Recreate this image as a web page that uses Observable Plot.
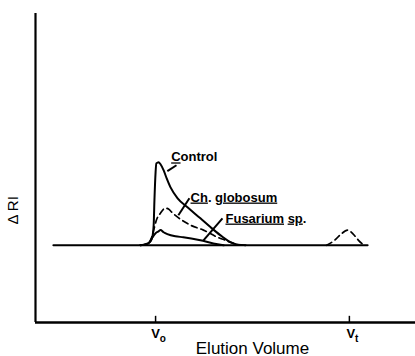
<!DOCTYPE html>
<html>
<head>
<meta charset="utf-8">
<script src="https://cdn.jsdelivr.net/npm/d3@7"></script>
<script src="https://cdn.jsdelivr.net/npm/@observablehq/plot@0.6"></script>
<style>
  body { margin: 0; background: #fff; }
</style>
</head>
<body>
<div id="chart"></div>
<script>
// Elution volume (arbitrary units) and ΔRI (relative to baseline)
const baselineX = [4.7, 87.4];
const baselineY = [0, 0];

const controlX = [27.6, 29.2, 30.3, 30.8, 31.1, 31.3, 31.6, 31.8, 32.4, 32.9, 33.7, 34.5, 35.5, 37.4, 40.0, 43.4, 46.1, 48.7, 51.3, 53.2, 55.3];
const controlY = [0, 0.3, 1.3, 2.9, 6.5, 14.6, 23.6, 26.5, 26.9, 26.2, 24.3, 21.7, 18.8, 15.2, 12.3, 8.7, 5.8, 3.2, 1.0, 0.2, 0];

const globosumX = [27.6, 29.7, 30.5, 31.1, 31.8, 32.9, 33.7, 34.2, 35.0, 36.1, 37.4, 40.8, 44.2, 47.9, 50.0, 52.1, 53.9];
const globosumY = [0, 0.6, 2.3, 4.9, 8.1, 10.4, 11.7, 12.0, 11.7, 10.4, 9.1, 6.5, 4.9, 2.6, 1.6, 0.6, 0];

const globosumPeak2X = [76.6, 78.7, 80.4, 82.1, 83.6, 85.0, 86.4];
const globosumPeak2Y = [0, 1.6, 3.6, 4.9, 3.6, 1.6, 0];

const fusariumX = [27.6, 28.9, 30.0, 30.8, 31.6, 32.4, 32.9, 33.7, 34.7, 36.8, 38.9, 43.4, 46.8, 49.5];
const fusariumY = [0, 0.3, 1.0, 2.6, 3.9, 4.5, 4.9, 4.2, 3.6, 2.9, 2.6, 1.6, 0.6, 0];

const tickValues = [31.6, 82.6];
const tickLabels = ["Vo", "Vt"];

const seriesLabels = ["Control", "Ch. globosum", "Fusarium sp."];
const labelX = [35.7, 40.8, 50.0];
const labelY = [28.5, 15.5, 8.7];
const leaderX1 = [34.7, 37.6, 44.2];
const leaderY1 = [24.0, 9.7, 1.6];
const leaderX2 = [37.1, 40.5, 49.2];
const leaderY2 = [25.9, 15.2, 8.7];

const zip = (xs, ys) => xs.map((x, i) => ({x, y: ys[i]}));
const baseline = zip(baselineX, baselineY);
const control = zip(controlX, controlY);
const globosum = zip(globosumX, globosumY);
const globosum2 = zip(globosumPeak2X, globosumPeak2Y);
const fusarium = zip(fusariumX, fusariumY);
const labels = seriesLabels.map((t, i) => ({t, x: labelX[i], y: labelY[i]}));
const leaders = seriesLabels.map((t, i) => ({x1: leaderX1[i], y1: leaderY1[i], x2: leaderX2[i], y2: leaderY2[i]}));
const ticks = tickValues.map((v, i) => ({v, label: tickLabels[i]}));

const chart = Plot.plot({
  width: 415,
  height: 356,
  marginLeft: 35,
  marginRight: 0,
  marginTop: 13,
  marginBottom: 34,
  style: {fontFamily: "Liberation Sans, Arial, sans-serif", background: "#fff", color: "#000"},
  x: {domain: [0, 100], axis: null},
  y: {domain: [-25, 75], axis: null},
  marks: [
    Plot.ruleX([0], {y1: -25, y2: 75, stroke: "#000", strokeWidth: 2.2}),
    Plot.ruleY([-25], {x1: 0, x2: 100, stroke: "#000", strokeWidth: 2.5}),
    Plot.ruleX(ticks, {x: "v", y1: -25, y2: -23, stroke: "#000", strokeWidth: 1.5}),
    Plot.text(ticks, {x: "v", y: -25, text: "label", dy: 11, dx: 3, fontSize: 13, fontWeight: "bold", fill: "#000"}),
    Plot.text(["Elution Volume"], {frameAnchor: "bottom", dy: 31, x: 57.1, text: d => d, fontSize: 17, letterSpacing: "0.5px", fill: "#000"}),
    Plot.text(["Δ RI"], {x: 0, y: 11.3, dx: -22, rotate: -90, text: d => d, fontSize: 15, fill: "#000", clip: false}),
    Plot.line(baseline, {x: "x", y: "y", stroke: "#000", strokeWidth: 2}),
    Plot.line(control, {x: "x", y: "y", curve: "monotone-x", stroke: "#000", strokeWidth: 2}),
    Plot.line(fusarium, {x: "x", y: "y", curve: "monotone-x", stroke: "#000", strokeWidth: 2}),
    Plot.line(globosum, {x: "x", y: "y", curve: "monotone-x", stroke: "#000", strokeWidth: 1.7, strokeDasharray: "6,4"}),
    Plot.line(globosum2, {x: "x", y: "y", curve: "monotone-x", stroke: "#000", strokeWidth: 1.7, strokeDasharray: "6,4"}),
    Plot.link(leaders, {x1: "x1", y1: "y1", x2: "x2", y2: "y2", stroke: "#000", strokeWidth: 2}),
    Plot.text(labels, {x: "x", y: "y", text: "t", textAnchor: "start", fontSize: 13, fontWeight: "bold", fill: "#000"})
  ]
});

// underline and subscripts, as in the original figure
chart.querySelectorAll("text").forEach(t => {
  const s = t.textContent;
  const u = w => `<tspan text-decoration="underline">${w}</tspan>`;
  if (s === "Control") t.innerHTML = u("C") + "ontrol";
  else if (s === "Ch. globosum") t.innerHTML = u("Ch") + ". " + u("globosum");
  else if (s === "Fusarium sp.") t.innerHTML = u("Fusarium") + " " + u("sp") + ".";
  else if (s === "Vo" || s === "Vt") t.innerHTML = `V<tspan dy="4" font-size="10">${s[1]}</tspan>`;
});

document.getElementById("chart").appendChild(chart);
</script>
</body>
</html>
